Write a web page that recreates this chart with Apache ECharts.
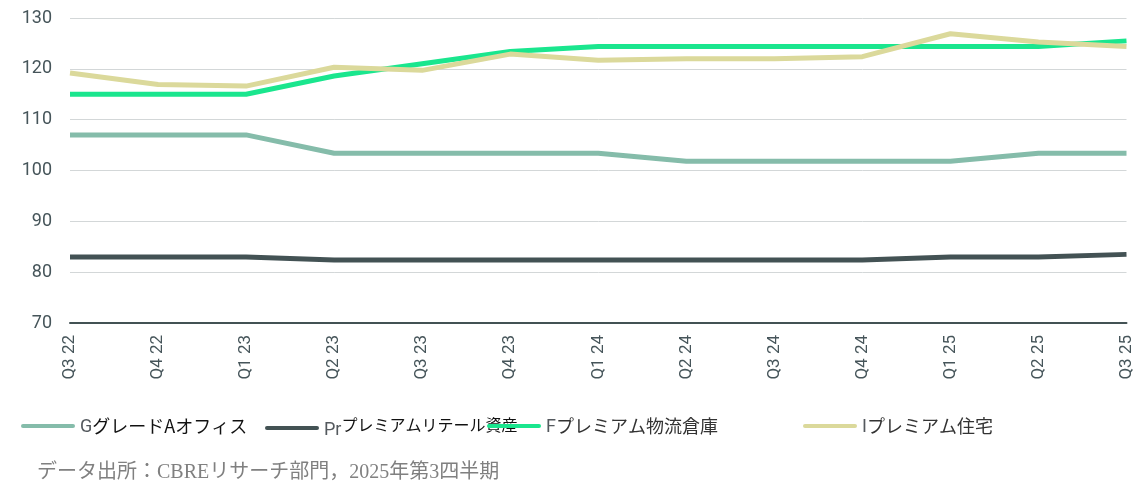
<!DOCTYPE html>
<html><head><meta charset="utf-8">
<script src="https://cdn.jsdelivr.net/npm/echarts@6/dist/echarts.min.js"></script>
<style>html,body{margin:0;padding:0;background:#fff}#c{width:1135px;height:487px}</style>
</head><body><div id="c"></div>
<script>
var categories = ['Q3 22','Q4 22','Q1 23','Q2 23','Q3 23','Q4 23','Q1 24','Q2 24','Q3 24','Q4 24','Q1 25','Q2 25','Q3 25'];
var gradeAOffice = [107.0,107.0,107.0,103.4,103.4,103.4,103.4,101.8,101.8,101.8,101.8,103.4,103.4];
var premiumRetail = [83.0,83.0,83.0,82.4,82.4,82.4,82.4,82.4,82.4,82.4,83.0,83.0,83.5];
var premiumLogistics = [115.0,115.0,115.0,118.6,121.0,123.4,124.4,124.4,124.4,124.4,124.4,124.4,125.5];
var premiumResidential = [119.2,116.9,116.6,120.3,119.7,122.9,121.7,122.0,122.0,122.4,126.9,125.3,124.4];
var seriesNames = ['グレードAオフィス','プレミアムリテール資産','プレミアム物流倉庫','プレミアム住宅'];
var prefixes = ['G','Pr','F','I'];
var colors = ['#85bcaa','#435254','#1ae68e','#dbd99b'];
var sourceText = 'データ出所：CBREリサーチ部門，2025年第3四半期';

var chart = echarts.init(document.getElementById('c'));
var dataSets = [gradeAOffice, premiumRetail, premiumLogistics, premiumResidential];
var legendLefts = [16, 260, 482, 798];
var legends = seriesNames.map(function(n, i){
  return {
    data: [n], left: legendLefts[i], top: 412, itemWidth: 54, itemHeight: 14, itemGap: 0,
    icon: 'path://M2,5 L52,5 A2,2 0 0 1 52,9 L2,9 A2,2 0 0 1 2,5 Z',
    formatter: function(name){ return '{p|' + prefixes[i] + '}{t' + (i===1?'s':'') + '|' + name + '}'; },
    textStyle: {
      rich: {
        p: {fontSize: 18, color: '#54595e', fontFamily: 'Roboto', padding:[4,0,0,0]},
        t: {fontSize: 18, color: i>=2 ? '#333333' : '#111111', fontFamily: 'Noto Sans CJK JP'},
        ts: {fontSize: 16, color: '#111111', fontFamily: 'Noto Sans CJK JP', padding:[0,0,6,0]}
      }
    }
  };
});
chart.setOption({
  animation: false,
  color: colors,
  grid: {left: 70, right: 7, top: 18, bottom: 164, containLabel: false},
  legend: legends,
  graphic: [{type:'text', left: 37, top: 463, style:{text: sourceText, fill:'#808080', font:'20px "Liberation Serif", "Noto Sans CJK JP"'}}],
  xAxis: {
    type: 'category', data: categories, boundaryGap: false,
    axisLine: {lineStyle: {color: '#435254', width: 2}},
    axisTick: {show: false},
    axisLabel: {rotate: 90, color: '#46555a', fontSize: 17, fontFamily: 'Roboto', margin: 12, interval: 0}
  },
  yAxis: {
    type: 'value', min: 70, max: 130, interval: 10,
    axisLine: {show: false}, axisTick: {show: false},
    axisLabel: {color: '#46555a', fontSize: 18, fontFamily: 'Roboto', margin: 18},
    splitLine: {lineStyle: {color: '#d3d7d8', width: 1}}
  },
  series: seriesNames.map(function(n, i){
    return {name: n, type: 'line', data: dataSets[i], symbol: 'none', lineStyle: {width: 5, color: colors[i]}, itemStyle:{color: colors[i]}, z: [2,2,3,4][i]};
  })
});
</script></body></html>
